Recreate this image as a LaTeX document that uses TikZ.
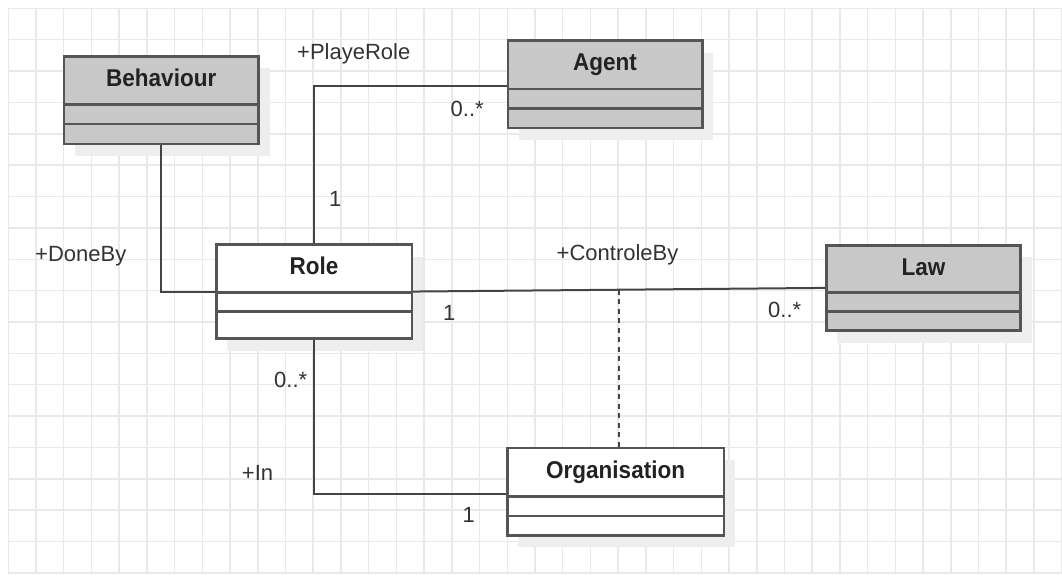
\documentclass[tikz,border=0pt]{standalone}
\usepackage{fontspec}
\setmainfont{Liberation Sans}
\usetikzlibrary{shadows}
\definecolor{gridc}{HTML}{E9E9E9}
\definecolor{boxline}{HTML}{555555}
\definecolor{boxfill}{HTML}{C8C8C8}
\definecolor{shade}{HTML}{EEEEEE}
\definecolor{wire}{HTML}{444444}
\definecolor{ink}{HTML}{222222}
\definecolor{labelc}{HTML}{333333}
\newcommand{\tallname}[1]{\scalebox{1}[1.08]{#1}}
\begin{document}
\begin{tikzpicture}[x=1pt,y=-1pt,
  umlclass/.style={draw=boxline, line width=2.5pt, anchor=north west, inner sep=0pt,
    general shadow={fill=shade, shadow xshift=11pt, shadow yshift=-12pt}},
  graybox/.style={umlclass, fill=boxfill},
  whitebox/.style={umlclass, fill=white},
  title/.style={font=\fontsize{22.5}{26}\selectfont\bfseries, text=ink, inner sep=0pt, anchor=base},
  lbl/.style={font=\fontsize{22}{26}\selectfont, text=labelc, inner sep=0pt, anchor=base west},
  assoc/.style={draw=wire, line width=2pt},
  sep/.style={draw=boxline, line width=2.5pt},
  gridline/.style={draw=gridc, line width=1.5pt}
]
\useasboundingbox[fill=white] (0,0) rectangle (1062,576);

% background grid
\foreach \i in {0,...,38}
  \draw[gridline] ({8.3+27.72*\i},8.3) -- ({8.3+27.72*\i},573);
\foreach \j in {0,...,18}
  \draw[gridline] (8.3,{8.3+31.37*\j}) -- (1061.7,{8.3+31.37*\j});

% classes
\node[graybox, minimum width=194.6pt, minimum height=87.7pt] (behav) at (62.7,55) {};
\node[graybox, minimum width=194.3pt, minimum height=87.4pt] (agent) at (506.7,39.3) {};
\node[whitebox, minimum width=195.7pt, minimum height=94pt] (role) at (215,243.3) {};
\node[graybox, minimum width=194.3pt, minimum height=85.3pt] (law) at (825,244) {};
\node[whitebox, minimum width=216.7pt, minimum height=87.3pt] (org) at (506,446.7) {};

% compartment separators
\foreach \n/\a/\b in {behav/49.3/69, agent/49.7/69, role/49/68.4, law/48.3/67.7, org/50/69.3} {
  \draw[sep] ([yshift=-\a pt]\n.north west) -- ([yshift=-\a pt]\n.north east);
  \draw[sep] ([yshift=-\b pt]\n.north west) -- ([yshift=-\b pt]\n.north east);
}

% class names
\node[title] (behav-t) at ([yshift=-31.5pt]behav.north) {\tallname{Behaviour}};
\node[title] (agent-t) at ([yshift=-31.5pt]agent.north) {\tallname{Agent}};
\node[title] (role-t) at ([yshift=-31.5pt]role.north) {\tallname{Role}};
\node[title] (law-t) at ([yshift=-31.5pt]law.north) {\tallname{Law}};
\node[title] (org-t) at ([yshift=-31.5pt]org.north) {\tallname{Organisation}};

% associations
\draw[assoc] (behav.south) |- (role.west);
\draw[assoc] (role.north) |- ([yshift=-2pt]agent.west);
\draw[assoc] (role.east) -- (law.west) coordinate[pos=0.5] (ctl);
\draw[assoc] (role.south) |- ([yshift=-2pt]org.west);
\draw[assoc, dash pattern=on 5pt off 4.5pt] (ctl) -- (ctl |- org.north);

% role names and multiplicities
\node[lbl] (l-play) at (297,59) {+PlayeRole};
\node[lbl] (l-m1) at (450.5,116) {0..*};
\node[lbl] (l-m2) at (329,206.7) {1};
\node[lbl] (l-done) at (35,261.7) {+DoneBy};
\node[lbl] (l-ctl) at (556.5,260) {+ControleBy};
\node[lbl] (l-m3) at (443,320.7) {1};
\node[lbl] (l-m4) at (768,317.3) {0..*};
\node[lbl] (l-m5) at (274,387.3) {0..*};
\node[lbl] (l-in) at (241.7,480) {+In};
\node[lbl] (l-m6) at (462.5,522.7) {1};
\end{tikzpicture}
\end{document}
